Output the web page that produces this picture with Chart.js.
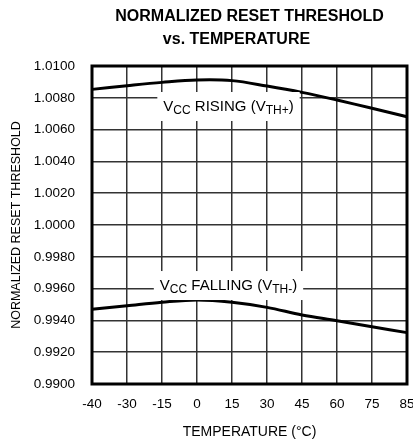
<!DOCTYPE html>
<html><head><meta charset="utf-8">
<script src="https://cdn.jsdelivr.net/npm/chart.js@4"></script>
<style>html,body{margin:0;padding:0;overflow:hidden;background:#fff}canvas{display:block}</style>
</head><body><canvas id="c" width="413" height="445" style="width:413px;height:445px"></canvas>
<script>
const titleLines = ['NORMALIZED RESET THRESHOLD', 'vs. TEMPERATURE'];
const xAxisTitle = 'TEMPERATURE (°C)';
const yAxisTitle = 'NORMALIZED RESET THRESHOLD';
const temperatureLabels = ['-40','-30','-15','0','15','30','45','60','75','85'];
const risingValues  = [1.00853,1.00876,1.00897,1.00912,1.00908,1.00874,1.00834,1.00786,1.00734,1.00681];
const fallingValues = [0.99470,0.99492,0.99514,0.99528,0.99514,0.99482,0.99434,0.99398,0.99360,0.99323];
const yTickValues = [0.9900,0.9920,0.9940,0.9960,0.9980,1.0000,1.0020,1.0040,1.0060,1.0080,1.0100];
const risingLabelParts  = [['V',false],['CC',true],[' RISING (V',false],['TH+',true],[')',false]];
const fallingLabelParts = [['V',false],['CC',true],[' FALLING (V',false],['TH-',true],[')',false]];

const FONT = '"Liberation Sans", Arial, sans-serif';
const curveLabels = [
  {parts: risingLabelParts, at: 3.9, value: 1.00717},
  {parts: fallingLabelParts, at: 3.9, value: 0.99591}
];

const decor = {
  id: 'decor',
  afterDatasetsDraw(chart) {
    const {ctx, chartArea: a, scales: {x, y}} = chart;
    ctx.save();
    const MAIN = '15px ' + FONT, SUB = '12px ' + FONT;
    curveLabels.forEach(l => {
      const cx = x.getPixelForValue(l.at), by = y.getPixelForValue(l.value);
      let w = 0;
      l.parts.forEach(([t, s]) => { ctx.font = s ? SUB : MAIN; w += ctx.measureText(t).width; });
      ctx.fillStyle = '#fff';
      ctx.fillRect(cx - w / 2 - 6, by - 19, w + 12, 29);
      let px = cx - w / 2;
      ctx.fillStyle = '#000';
      ctx.textBaseline = 'alphabetic';
      ctx.textAlign = 'left';
      l.parts.forEach(([t, s]) => {
        ctx.font = s ? SUB : MAIN;
        ctx.fillText(t, px, by + (s ? 3 : 0));
        px += ctx.measureText(t).width;
      });
    });
    ctx.lineWidth = 3;
    ctx.strokeStyle = '#000';
    ctx.strokeRect(a.left, a.top, a.right - a.left, a.bottom - a.top);
    ctx.restore();
  },
  afterDraw(chart) {
    const {ctx, chartArea: a} = chart;
    ctx.save();
    ctx.font = 'bold 16px ' + FONT;
    ctx.fillStyle = '#000';
    ctx.textAlign = 'center';
    ctx.textBaseline = 'middle';
    const cx = (a.left + a.right) / 2;
    ctx.fillText(titleLines[0], cx, 17);
    ctx.fillText(titleLines[1], cx - 13, 40);
    ctx.restore();
  }
};

new Chart(document.getElementById('c'), {
  type: 'line',
  data: {
    labels: temperatureLabels,
    datasets: [
      {label: 'VCC RISING (VTH+)', data: risingValues, borderColor: '#000', borderWidth: 3, pointRadius: 0, tension: 0.35, fill: false},
      {label: 'VCC FALLING (VTH-)', data: fallingValues, borderColor: '#000', borderWidth: 3, pointRadius: 0, tension: 0.35, fill: false}
    ]
  },
  options: {
    responsive: false,
    maintainAspectRatio: false,
    devicePixelRatio: 1,
    animation: false,
    layout: {padding: {top: 66, right: 6, left: 0, bottom: 0}},
    plugins: {legend: {display: false}, tooltip: {enabled: false}, title: {display: false}},
    scales: {
      x: {
        type: 'category',
        offset: false,
        afterFit: s => { s.height = 61; s.paddingRight = 0; s.paddingLeft = 0; },
        grid: {display: true, color: '#333', lineWidth: 1.5, drawTicks: false, offset: false},
        border: {display: false},
        ticks: {color: '#000', font: {family: FONT, size: 13.5}, padding: 12, maxRotation: 0, autoSkip: false},
        title: {display: true, text: xAxisTitle, color: '#000', font: {family: FONT, size: 14}, padding: {top: 12, bottom: 4}}
      },
      y: {
        min: 0.99, max: 1.01,
        afterBuildTicks: s => { s.ticks = yTickValues.map(v => ({value: v})); },
        afterFit: s => { s.width = 92; s.paddingTop = 0; s.paddingBottom = 0; },
        grid: {display: true, color: '#333', lineWidth: 1.5, drawTicks: false},
        border: {display: false},
        ticks: {color: '#000', font: {family: FONT, size: 13.5}, padding: 17, callback: v => Number(v).toFixed(4)},
        title: {display: true, text: yAxisTitle, color: '#000', font: {family: FONT, size: 12.5}, padding: {top: 9, bottom: 0}}
      }
    }
  },
  plugins: [decor]
});
</script>
</body></html>
